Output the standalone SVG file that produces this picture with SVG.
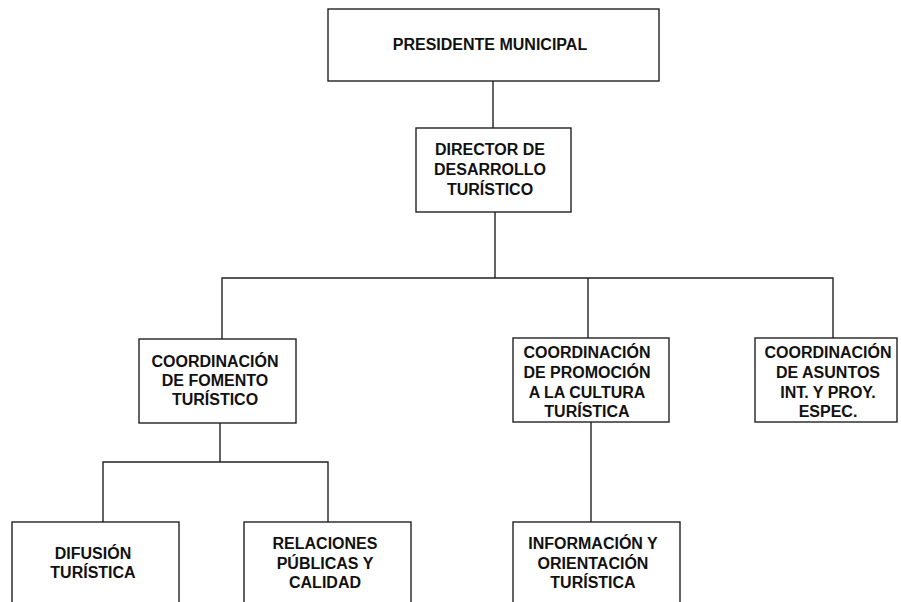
<svg xmlns="http://www.w3.org/2000/svg" width="901" height="602" viewBox="0 0 901 602">
<style>
.box{fill:#fff;stroke:#222;stroke-width:1.4}
.ln{fill:none;stroke:#222;stroke-width:1.4}
text{font-family:"Liberation Sans",Arial,sans-serif;font-weight:bold;font-size:16px;fill:#111;text-anchor:middle}
</style>
<rect width="901" height="602" fill="#fff"/>
<g id="connectors">
<path class="ln" d="M493 81V128"/>
<path class="ln" d="M495 212V278"/>
<path class="ln" d="M222 339V278H833V338"/>
<path class="ln" d="M588 278V338"/>
<path class="ln" d="M220 423V462"/>
<path class="ln" d="M103 522V462H328V522"/>
<path class="ln" d="M591 422V522"/>
</g>
<g id="presidente">
<rect class="box" x="328" y="9" width="331" height="72"/>
<text x="490" y="50">PRESIDENTE MUNICIPAL</text>
</g>
<g id="director">
<rect class="box" x="416" y="128" width="155" height="84"/>
<text x="490" y="155">DIRECTOR DE</text>
<text x="490" y="175">DESARROLLO</text>
<text x="490" y="195">TURÍSTICO</text>
</g>
<g id="fomento">
<rect class="box" x="139" y="339" width="157" height="84"/>
<text x="215" y="367">COORDINACIÓN</text>
<text x="215" y="386">DE FOMENTO</text>
<text x="215" y="405">TURÍSTICO</text>
</g>
<g id="promocion">
<rect class="box" x="513" y="338" width="156" height="84"/>
<text x="587" y="358">COORDINACIÓN</text>
<text x="587" y="378">DE PROMOCIÓN</text>
<text x="587" y="398">A LA CULTURA</text>
<text x="587" y="417">TURÍSTICA</text>
</g>
<g id="asuntos">
<rect class="box" x="755" y="338" width="142" height="84"/>
<text x="828" y="358">COORDINACIÓN</text>
<text x="828" y="378">DE ASUNTOS</text>
<text x="828" y="398">INT. Y PROY.</text>
<text x="828" y="417">ESPEC.</text>
</g>
<g id="difusion">
<rect class="box" x="12" y="522" width="167" height="90"/>
<text x="93" y="559">DIFUSIÓN</text>
<text x="93" y="578">TURÍSTICA</text>
</g>
<g id="relaciones">
<rect class="box" x="244" y="522" width="167" height="90"/>
<text x="325" y="549">RELACIONES</text>
<text x="325" y="569">PÚBLICAS Y</text>
<text x="325" y="588">CALIDAD</text>
</g>
<g id="informacion">
<rect class="box" x="513" y="522" width="167" height="90"/>
<text x="593" y="549">INFORMACIÓN Y</text>
<text x="593" y="569">ORIENTACIÓN</text>
<text x="593" y="588">TURÍSTICA</text>
</g>
</svg>
